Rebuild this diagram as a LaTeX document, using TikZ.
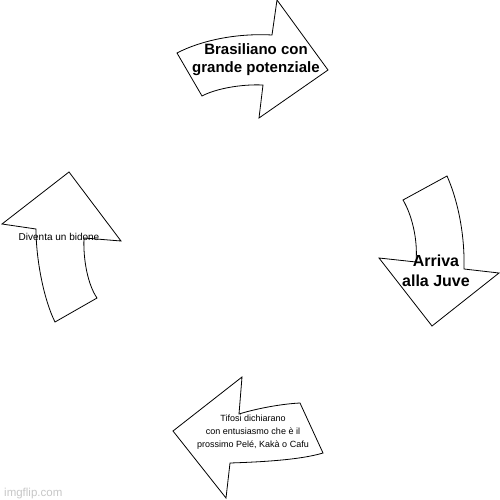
\documentclass[tikz,border=0pt]{standalone}
\usepackage{fontspec}
\setmainfont{Liberation Sans}
\usepackage{tikz}

\begin{document}
\begin{tikzpicture}[x=1pt, y=-1pt,
	bigarrow/.style={draw=black, line width=0.8pt, line join=miter, fill=white},
	boldtext/.style={align=center, inner sep=0pt, font=\bfseries\fontsize{15}{18}\selectfont},
	smalltext/.style={align=center, inner sep=0pt, font=\fontsize{9}{12.7}\selectfont}]
	\useasboundingbox[fill=white] (0,0) rectangle (500,500);

	% top arrow
	\draw[bigarrow] (177,53) .. controls (200,41) and (235,33) .. (272,35)
		-- (277,0) -- (328,70) -- (259,118) -- (263,85)
		.. controls (240,84) and (215,89) .. (202,96) -- cycle;

	% right arrow
	\draw[bigarrow] (403,200) -- (447,176)
		.. controls (456,196) and (465,230) .. (464,269)
		-- (499,273) -- (432,326) -- (379,258) -- (416,262)
		.. controls (418,240) and (412,215) .. cycle;

	% bottom arrow
	\draw[bigarrow] (242,377) -- (173,431) -- (226,498) -- (230,463)
		.. controls (260,462) and (300,460) .. (323,453)
		-- (300,403) .. controls (280,404) and (255,409) .. (239,414) -- cycle;

	% left arrow
	\draw[bigarrow] (69,172) -- (121,241) -- (84,238)
		.. controls (83,260) and (88,285) .. (97,298)
		-- (55,322) .. controls (44,300) and (36,260) .. (36,229)
		-- (2,224) -- cycle;

	% labels
	\node[boldtext] (brasiliano) at (256,60) {Brasiliano con\\grande potenziale};
	\node[boldtext, font=\bfseries\fontsize{16}{20}\selectfont] (juve) at (436,271) {Arriva\\alla Juve};
	\node[smalltext] (tifosi) at (253,432) {Tifosi dichiarano\\con entusiasmo che è il\\prossimo Pelé, Kakà o Cafu};
	\node[smalltext, font=\fontsize{10}{12}\selectfont] (bidone) at (59,237) {Diventa un bidone};

	% watermark
	\node[anchor=base west, inner sep=0pt, text=black!22, font=\fontsize{11.5}{12}\selectfont] (imgflip) at (4,496) {imgflip.com};
\end{tikzpicture}
\end{document}
